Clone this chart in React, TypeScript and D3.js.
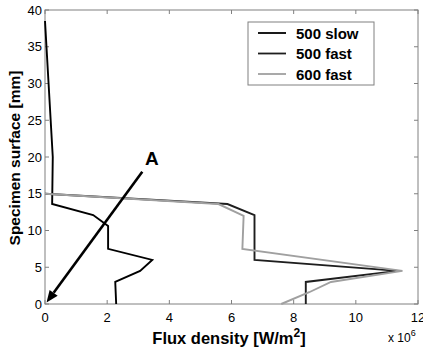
import React from 'react';
import * as d3 from 'd3';

// depth values (mm) shared by the profiles
const slowDepth = [38.5, 20, 13.6, 12.1, 10.6, 7.5, 6.0, 4.5, 3.0, 0];
const slowFlux = [0, 0.25, 0.23, 1.55, 2.03, 2.03, 3.45, 3.06, 2.26, 2.29];

const fast500Depth = [15, 13.6, 12.1, 6.0, 4.5, 3.0, 0];
const fast500Flux = [0, 5.87, 6.74, 6.74, 11.35, 8.39, 8.39];

const fast600Depth = [15, 13.6, 12.0, 7.5, 4.5, 3.0, 1.6, 0];
const fast600Flux = [0, 5.58, 6.39, 6.35, 11.5, 9.2, 8.5, 7.6];

const seriesNames = ['500 slow', '500 fast', '600 fast'];
const seriesColors = ['#000000', '#1e1e1e', '#a0a0a0'];

const xTicks = [0, 2, 4, 6, 8, 10, 12];
const yTicks = [0, 5, 10, 15, 20, 25, 30, 35, 40];

// arrow "A" from (3.13, 18) to origin
const arrowFrom = [3.13, 18.0];
const arrowTo = [0.05, 0.2];

const W = 423, H = 348;
const font = 'Liberation Sans, Arial, Helvetica, sans-serif';

export default function App() {
  const x = d3.scaleLinear().domain([0, 12]).range([45, 418]);
  const y = d3.scaleLinear().domain([0, 40]).range([304, 10]);

  const line = d3.line<[number, number]>().x(d => x(d[0])).y(d => y(d[1]));
  const mk = (fx: number[], dy: number[]) => fx.map((v, i) => [v, dy[i]] as [number, number]);
  const series = [
    mk(slowFlux, slowDepth),
    mk(fast500Flux, fast500Depth),
    mk(fast600Flux, fast600Depth),
  ];

  const axisCol = '#808080';
  const tl = 4;
  const ax0 = x(arrowFrom[0]), ay0 = y(arrowFrom[1]);
  const ax1 = x(arrowTo[0]), ay1 = y(arrowTo[1]);
  const ang = Math.atan2(ay1 - ay0, ax1 - ax0);
  const hl = 12, hw = 5;
  const bx = ax1 - hl * Math.cos(ang), by = ay1 - hl * Math.sin(ang);
  const head = [
    [ax1, ay1],
    [bx + hw * Math.sin(ang), by - hw * Math.cos(ang)],
    [bx - hw * Math.sin(ang), by + hw * Math.cos(ang)],
  ].map(p => p.join(',')).join(' ');

  return (
    <svg width={W} height={H} style={{ position: 'absolute', left: 0, top: 0, background: '#fff' }}
      fontFamily={font}>
      <rect x={0} y={0} width={W} height={H} fill="#fff" />
      {/* ticks */}
      {xTicks.map(t => (
        <g key={'x' + t}>
          <line x1={x(t)} x2={x(t)} y1={y(0)} y2={y(0) - tl} stroke={axisCol} />
          <line x1={x(t)} x2={x(t)} y1={y(40)} y2={y(40) + tl} stroke={axisCol} />
          <text x={x(t)} y={y(0) + 18} fontSize={13} textAnchor="middle" fill="#000">{t}</text>
        </g>
      ))}
      {yTicks.map(t => (
        <g key={'y' + t}>
          <line x1={x(0)} x2={x(0) + tl} y1={y(t)} y2={y(t)} stroke={axisCol} />
          <line x1={x(12)} x2={x(12) - tl} y1={y(t)} y2={y(t)} stroke={axisCol} />
          <text x={x(0) - 3} y={y(t) + 4.5} fontSize={13} textAnchor="end" fill="#000">{t}</text>
        </g>
      ))}
      <rect x={x(0)} y={y(40)} width={x(12) - x(0)} height={y(0) - y(40)} fill="none" stroke={axisCol} />

      {/* series */}
      {series.map((s, i) => (
        <path key={i} d={line(s) || ''} fill="none" stroke={seriesColors[i]}
          strokeWidth={1.9} strokeLinejoin="miter" />
      ))}

      {/* arrow */}
      <line x1={ax0} y1={ay0} x2={bx} y2={by} stroke="#000" strokeWidth={2.6} />
      <polygon points={head} fill="#000" />
      <text x={145} y={165} fontSize={19} fontWeight="bold">A</text>

      {/* legend */}
      <rect x={248} y={22} width={126} height={63} fill="#fff" stroke={axisCol} />
      {seriesNames.map((n, i) => (
        <g key={n}>
          <line x1={258} x2={286} y1={33 + i * 20.5} y2={33 + i * 20.5} stroke={seriesColors[i]} strokeWidth={1.8} />
          <text x={296} y={38.5 + i * 20.5} fontSize={15} fontWeight="bold">{n}</text>
        </g>
      ))}

      {/* axis titles */}
      <text x={229} y={344} fontSize={16.5} fontWeight="bold" textAnchor="middle">
        Flux density [W/m<tspan dy={-7} fontSize={12}>2</tspan><tspan dy={7}>]</tspan>
      </text>
      <text transform={`translate(20,158) rotate(-90)`} fontSize={15.5} fontWeight="bold" textAnchor="middle">
        Specimen surface [mm]
      </text>
      <text x={388} y={342} fontSize={12}>x 10<tspan dy={-6} fontSize={9}>6</tspan></text>
    </svg>
  );
}
